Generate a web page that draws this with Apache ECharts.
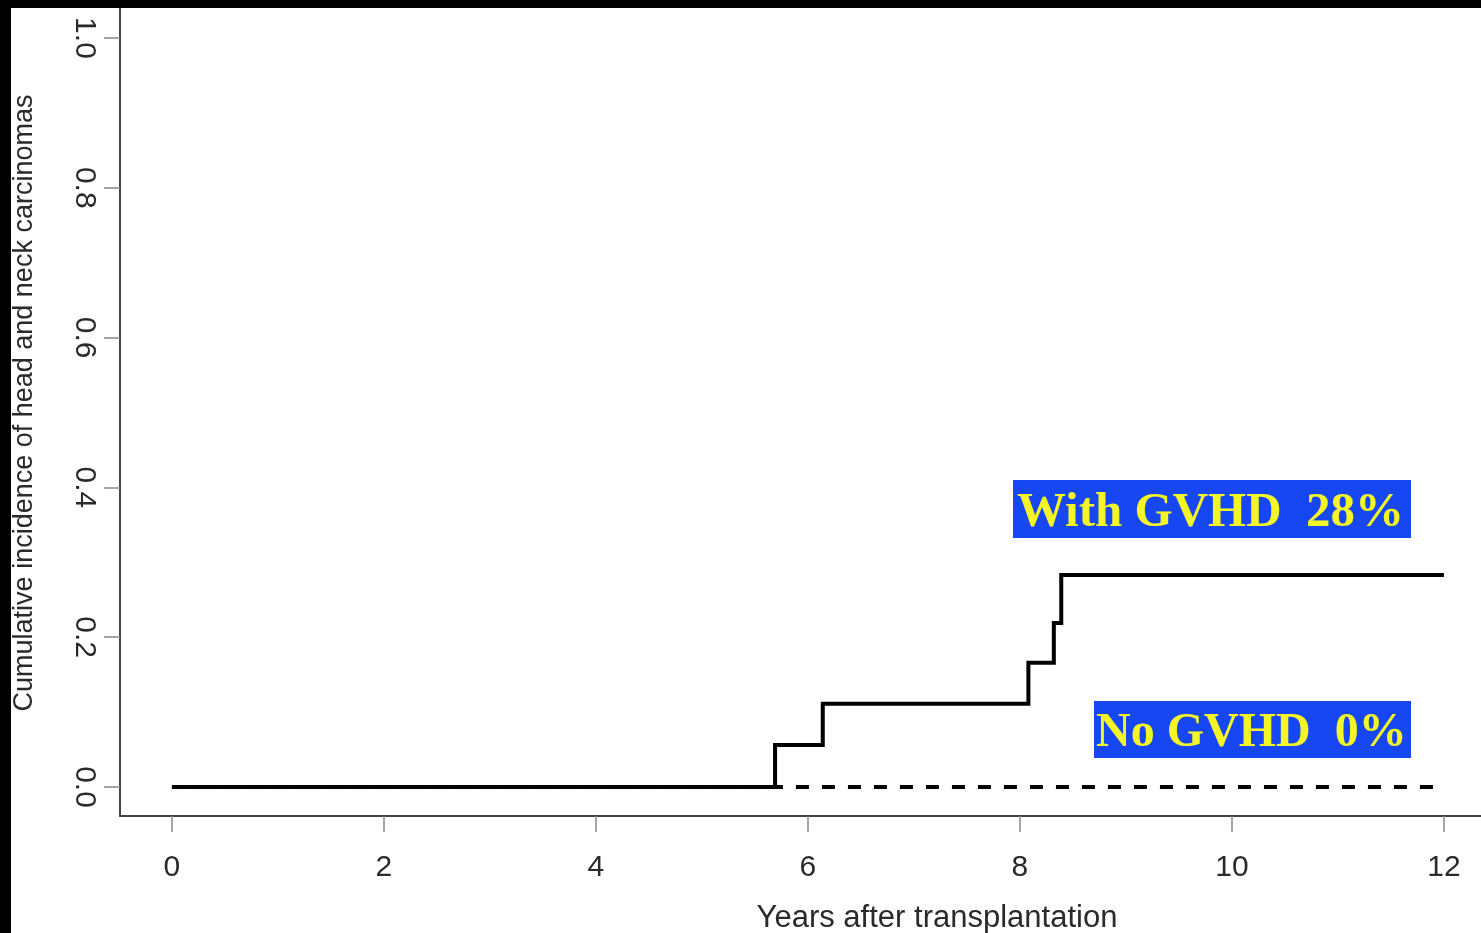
<!DOCTYPE html>
<html>
<head>
<meta charset="utf-8">
<script src="https://cdn.jsdelivr.net/npm/echarts@6/dist/echarts.min.js"></script>
<style>
html,body{margin:0;padding:0;background:#fff;}
#c{width:1481px;height:933px;}
</style>
</head>
<body>
<div id="c"></div>
<script>
// ---- data ----
const xTicks = [0, 2, 4, 6, 8, 10, 12];
const yTicks = [0, 0.2, 0.4, 0.6, 0.8, 1.0];
const withGvhdX = [0, 5.69, 6.14, 8.08, 8.32, 8.39, 12.0];
const withGvhdY = [0, 0.056, 0.111, 0.166, 0.219, 0.283, 0.283];
const noGvhdX = [0, 12.0];
const noGvhdY = [0, 0];
const xTitle = 'Years after transplantation';
const yTitle = 'Cumulative incidence of head and neck carcinomas';
const labelWith = 'With GVHD  28%';
const labelNo = 'No GVHD  0%';

const pair = (xs, ys) => xs.map((x, i) => [x, ys[i]]);

const chart = echarts.init(document.getElementById('c'), null, {renderer: 'canvas'});
const axisFont = 'Liberation Sans, Arial, Helvetica, sans-serif';
chart.setOption({
  animation: false,
  backgroundColor: '#ffffff',
  grid: {left: 120, right: 0, top: 8, bottom: 117, containLabel: false, outerBoundsMode: 'none'},
  xAxis: {
    type: 'value', min: -0.49, max: 12.35,
    name: xTitle, nameLocation: 'middle', nameGap: 87,
    nameTextStyle: {fontFamily: axisFont, fontSize: 31, color: '#2a2a2a', padding: [0, 0, 0, 273]},
    axisLine: {show: true, onZero: false, lineStyle: {color: '#444', width: 2}},
    axisTick: {show: true, inside: false, length: 16, customValues: xTicks, lineStyle: {color: '#888', width: 1.5}},
    axisLabel: {customValues: xTicks, margin: 37, fontFamily: axisFont, fontSize: 30, color: '#2a2a2a'},
    splitLine: {show: false}
  },
  yAxis: {
    type: 'value', min: -0.0387, max: 1.04,
    name: yTitle, nameLocation: 'middle', nameGap: 82, nameRotate: 90,
    nameTextStyle: {fontFamily: axisFont, fontSize: 27, color: '#2a2a2a', padding: [0, 0, 0, 18]},
    axisLine: {show: true, onZero: false, lineStyle: {color: '#444', width: 2}},
    axisTick: {show: true, inside: false, length: 16, customValues: yTicks, lineStyle: {color: '#888', width: 1.5}},
    axisLabel: {customValues: yTicks, rotate: -90, margin: 21, fontFamily: axisFont, fontSize: 30, color: '#2a2a2a',
      formatter: v => v.toFixed(1)},
    splitLine: {show: false}
  },
  series: [
    {
      type: 'line', data: pair(noGvhdX, noGvhdY), symbol: 'none',
      lineStyle: {color: '#000', width: 4, type: [13, 13], cap: 'butt'}, z: 2
    },
    {
      type: 'line', data: pair(withGvhdX, withGvhdY), step: 'end', symbol: 'none',
      lineStyle: {color: '#000', width: 4, cap: 'butt', join: 'miter'}, z: 3
    }
  ],
  graphic: [
    {type: 'rect', shape: {x: 1013, y: 480, width: 398, height: 58}, style: {fill: '#1747f2'}, z: 10},
    {type: 'text', x: 1017, y: 513, style: {text: labelWith, font: 'bold 49px "Liberation Serif", "Times New Roman", serif', fill: '#f4f526', verticalAlign: 'middle', align: 'left'}, z: 11},
    {type: 'rect', shape: {x: 1094, y: 701, width: 317, height: 57}, style: {fill: '#1747f2'}, z: 10},
    {type: 'text', x: 1096, y: 734, style: {text: labelNo, font: 'bold 48px "Liberation Serif", "Times New Roman", serif', fill: '#f4f526', verticalAlign: 'middle', align: 'left'}, z: 11},
    {type: 'rect', shape: {x: 0, y: 0, width: 11, height: 933}, style: {fill: '#000'}, z: 20},
    {type: 'rect', shape: {x: 0, y: 0, width: 1481, height: 8}, style: {fill: '#000'}, z: 20}
  ]
});
</script>
</body>
</html>
